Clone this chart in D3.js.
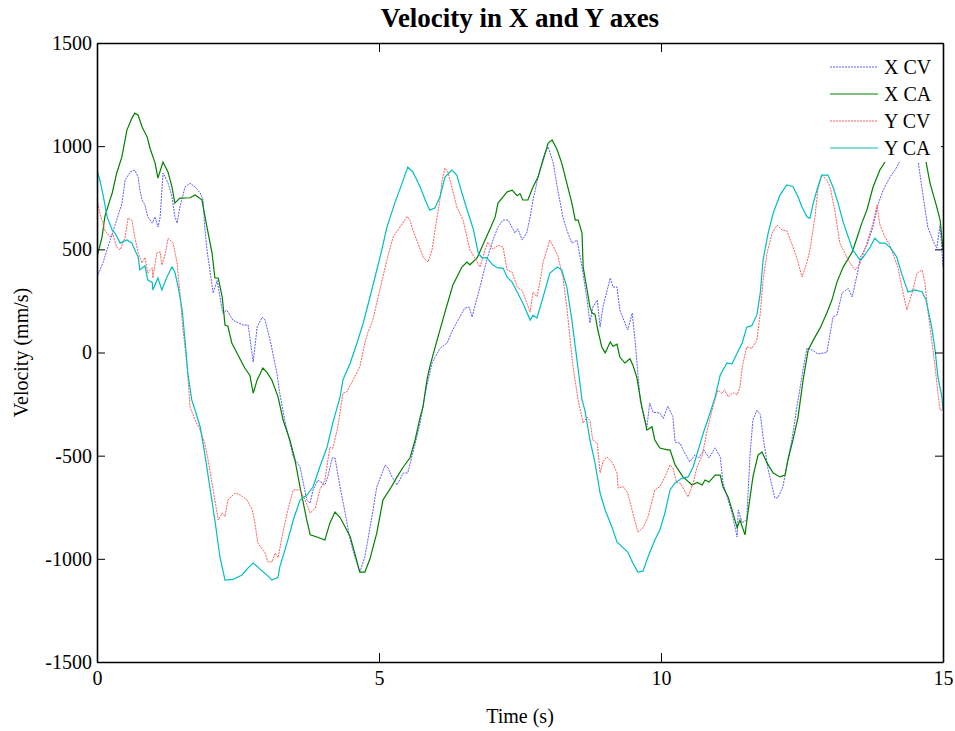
<html>
<head>
<meta charset="utf-8">
<script src="https://d3js.org/d3.v7.min.js"></script>
<style>
  body { margin: 0; background: #fff; }
  text { font-family: "Liberation Serif", "Times New Roman", serif; }
</style>
</head>
<body>
<div id="chart"></div>
<script>
// X CV (blue, dotted)
const xcvT = [0.00,0.11,0.18,0.28,0.44,0.50,0.59,0.67,0.73,0.76,0.80,0.85,0.90,0.98,1.03,1.08,1.12,1.17,1.21,1.26,1.33,1.38,1.42,1.47,1.56,1.65,1.74,1.83,1.88,1.91,1.95,2.06,2.13,2.23,2.30,2.41,2.59,2.68,2.77,2.84,2.93,2.98,3.07,3.19,3.24,3.33,3.48,3.60,3.72,3.78,3.83,3.92,4.04,4.10,4.17,4.22,4.31,4.40,4.49,4.57,4.66,4.75,4.89,4.96,5.11,5.16,5.23,5.32,5.43,5.51,5.60,5.73,5.82,5.94,6.08,6.21,6.29,6.40,6.52,6.60,6.65,6.79,6.91,7.02,7.11,7.20,7.29,7.41,7.46,7.54,7.62,7.68,7.73,7.85,7.94,8.00,8.09,8.17,8.26,8.33,8.42,8.51,8.60,8.69,8.74,8.79,8.87,8.92,8.97,9.10,9.15,9.22,9.27,9.36,9.41,9.49,9.54,9.63,9.75,9.80,9.86,9.98,10.04,10.12,10.21,10.25,10.34,10.39,10.51,10.60,10.67,10.76,10.85,10.96,11.05,11.10,11.19,11.26,11.35,11.37,11.44,11.52,11.58,11.63,11.70,11.76,11.81,11.90,12.02,12.07,12.16,12.25,12.32,12.41,12.52,12.59,12.68,12.78,12.94,13.05,13.12,13.21,13.32,13.39,13.48,13.53,13.65,13.76,13.85,13.94,14.06,14.15,14.24,14.38,14.47,14.56,14.65,14.73,14.84,14.89,14.95,15.00];
const xcvV = [366,438,500,584,720,836,875,884,850,787,739,715,657,627,657,608,657,870,850,821,754,660,627,705,802,820,802,773,740,608,497,288,349,191,205,157,133,133,-46,124,172,157,60,-100,-197,-330,-506,-555,-715,-730,-666,-618,-642,-594,-511,-511,-652,-778,-909,-990,-1064,-990,-770,-652,-545,-560,-603,-642,-584,-584,-487,-342,-197,-51,20,46,100,157,215,220,172,317,448,545,608,642,642,579,600,545,580,657,739,884,966,996,918,787,657,593,530,545,414,254,143,220,254,123,220,361,317,317,206,143,109,191,60,-230,-361,-245,-290,-293,-320,-260,-310,-434,-440,-472,-530,-497,-511,-472,-511,-462,-506,-632,-715,-780,-894,-763,-826,-810,-489,-327,-279,-300,-409,-569,-705,-705,-652,-521,-424,-264,-80,22,12,-7,0,172,182,288,310,269,380,458,520,610,720,787,850,884,930,1030,1000,923,754,608,530,506,620,414];

// X CA (green, solid)
const xcaT = [0.00,0.09,0.14,0.23,0.27,0.35,0.44,0.53,0.62,0.67,0.73,0.80,0.89,0.94,1.03,1.08,1.17,1.26,1.33,1.38,1.47,1.65,1.74,1.86,1.95,2.04,2.09,2.15,2.22,2.27,2.32,2.39,2.50,2.62,2.71,2.77,2.84,2.94,3.01,3.10,3.21,3.30,3.42,3.51,3.60,3.72,3.78,3.90,4.04,4.13,4.22,4.31,4.40,4.49,4.57,4.66,4.75,4.84,4.96,5.07,5.20,5.32,5.43,5.55,5.64,5.73,5.78,5.85,5.90,6.03,6.17,6.31,6.47,6.56,6.61,6.74,6.88,6.97,7.06,7.11,7.27,7.36,7.45,7.50,7.55,7.64,7.73,7.82,7.91,8.00,8.07,8.16,8.24,8.33,8.42,8.48,8.53,8.60,8.62,8.69,8.74,8.78,8.83,8.88,8.95,9.01,9.10,9.15,9.22,9.27,9.36,9.45,9.50,9.57,9.63,9.66,9.75,9.84,9.89,9.98,10.11,10.16,10.25,10.39,10.55,10.64,10.73,10.78,10.85,10.96,11.05,11.10,11.19,11.26,11.35,11.40,11.49,11.54,11.63,11.72,11.79,11.88,11.99,12.11,12.20,12.25,12.34,12.43,12.52,12.61,12.70,12.82,12.94,13.03,13.12,13.23,13.39,13.48,13.56,13.65,13.76,13.88,13.97,14.10,14.24,14.41,14.59,14.70,14.77,14.89,14.95,15.00];
const xcaV = [463,560,660,740,773,870,947,1078,1136,1160,1150,1093,1044,990,918,845,923,874,802,724,748,750,763,740,608,482,361,361,269,133,128,46,-12,-75,-110,-197,-133,-75,-95,-133,-215,-327,-424,-521,-652,-812,-884,-894,-909,-826,-773,-800,-846,-894,-972,-1064,-1064,-1000,-875,-715,-660,-603,-555,-510,-424,-313,-264,-133,-70,60,196,327,414,438,425,458,545,600,657,724,778,787,760,770,739,739,802,850,933,1015,1030,981,918,821,724,642,642,579,414,303,220,191,185,109,27,-2,51,30,40,-22,-51,-30,-60,-119,-215,-264,-376,-360,-424,-463,-472,-472,-545,-603,-642,-630,-642,-618,-628,-594,-594,-652,-700,-763,-850,-812,-884,-778,-603,-497,-482,-535,-584,-603,-594,-521,-424,-313,-133,12,60,118,191,254,341,414,487,560,627,690,802,884,923,1000,1060,1080,1000,923,821,705,640,497];

// Y CV (red, dotted)
const ycvT = [0.00,0.05,0.14,0.23,0.28,0.35,0.41,0.50,0.55,0.62,0.67,0.73,0.80,0.85,0.90,0.98,0.99,1.06,1.12,1.15,1.21,1.26,1.35,1.42,1.47,1.52,1.60,1.65,1.74,1.83,1.91,1.97,2.06,2.15,2.22,2.27,2.32,2.45,2.54,2.66,2.75,2.80,2.85,2.98,3.03,3.10,3.16,3.21,3.28,3.37,3.48,3.60,3.69,3.78,3.87,3.95,4.04,4.13,4.18,4.27,4.36,4.43,4.54,4.66,4.75,4.80,4.89,5.02,5.14,5.25,5.37,5.50,5.55,5.60,5.69,5.78,5.87,5.94,6.03,6.08,6.12,6.17,6.22,6.29,6.38,6.49,6.56,6.61,6.70,6.79,6.88,6.93,7.02,7.11,7.20,7.27,7.36,7.45,7.54,7.62,7.68,7.73,7.80,7.85,7.91,8.03,8.12,8.17,8.26,8.33,8.39,8.44,8.53,8.62,8.69,8.74,8.79,8.87,8.92,8.97,9.04,9.13,9.22,9.24,9.33,9.41,9.50,9.59,9.68,9.77,9.89,9.98,10.07,10.16,10.21,10.28,10.34,10.43,10.48,10.57,10.64,10.73,10.82,10.92,11.01,11.08,11.13,11.19,11.28,11.35,11.40,11.44,11.52,11.61,11.70,11.76,11.81,11.88,11.97,12.06,12.15,12.23,12.34,12.43,12.50,12.59,12.64,12.73,12.78,12.85,12.94,13.00,13.09,13.17,13.26,13.35,13.44,13.53,13.65,13.76,13.83,13.88,13.97,14.06,14.11,14.20,14.27,14.36,14.45,14.54,14.63,14.68,14.73,14.80,14.86,14.91,14.95,15.00];
const ycvV = [739,676,593,560,575,511,497,560,652,640,560,482,434,460,385,410,361,482,488,424,475,554,530,434,288,123,-70,-264,-327,-376,-438,-521,-666,-812,-778,-795,-715,-681,-690,-715,-760,-826,-923,-972,-1015,-1015,-972,-995,-894,-778,-666,-666,-715,-778,-755,-666,-618,-458,-465,-361,-197,-190,-133,-70,46,94,157,310,448,560,608,660,640,593,530,463,438,497,657,739,836,894,875,802,705,642,560,497,458,414,497,535,500,520,511,400,390,317,300,240,196,293,270,336,438,545,497,470,366,220,60,-70,-230,-342,-313,-330,-424,-440,-584,-530,-506,-530,-584,-657,-650,-681,-778,-870,-850,-797,-666,-650,-603,-545,-560,-632,-632,-676,-700,-632,-555,-500,-376,-264,-182,-200,-180,-215,-195,-205,-167,-70,27,20,60,191,351,482,579,618,593,590,511,438,366,438,497,657,787,860,836,800,676,530,482,434,400,430,530,627,715,620,560,520,482,414,317,206,288,385,400,336,206,60,-70,-197,-279,-279];

// Y CA (cyan, solid)
const ycaT = [0.00,0.05,0.11,0.18,0.27,0.32,0.41,0.53,0.62,0.67,0.73,0.76,0.85,0.90,0.98,0.99,1.08,1.15,1.24,1.33,1.38,1.44,1.51,1.56,1.61,1.68,1.74,1.83,1.91,2.00,2.09,2.18,2.27,2.41,2.57,2.68,2.77,2.89,3.01,3.10,3.21,3.24,3.37,3.48,3.60,3.72,3.83,3.95,4.08,4.18,4.31,4.36,4.49,4.61,4.72,4.84,4.93,5.05,5.14,5.28,5.41,5.51,5.60,5.73,5.82,5.90,5.99,6.08,6.17,6.29,6.38,6.47,6.58,6.67,6.76,6.83,6.91,7.02,7.11,7.20,7.27,7.36,7.45,7.55,7.68,7.73,7.80,7.91,8.03,8.16,8.24,8.33,8.42,8.51,8.60,8.65,8.74,8.83,8.92,9.01,9.13,9.22,9.33,9.41,9.50,9.59,9.68,9.77,9.89,9.98,10.07,10.16,10.25,10.37,10.48,10.57,10.66,10.75,10.87,10.96,11.05,11.17,11.26,11.35,11.44,11.52,11.61,11.70,11.76,11.81,11.90,11.99,12.11,12.23,12.34,12.43,12.50,12.59,12.64,12.70,12.78,12.85,12.96,13.05,13.14,13.23,13.32,13.40,13.53,13.58,13.71,13.79,13.88,13.97,14.06,14.18,14.27,14.38,14.50,14.63,14.70,14.80,14.86,14.91,14.98,15.00];
const ycaV = [884,836,760,657,593,579,530,545,530,497,463,400,420,351,340,303,361,303,366,414,390,317,206,60,-99,-230,-280,-361,-489,-652,-812,-991,-1103,-1100,-1078,-1044,-1020,-1050,-1078,-1103,-1090,-1040,-923,-812,-715,-691,-652,-555,-458,-342,-215,-133,-51,46,143,269,366,497,608,724,821,899,875,802,739,690,700,754,850,884,860,773,676,600,482,458,460,424,410,409,366,341,293,240,157,180,167,269,385,414,400,317,157,-36,-230,-279,-424,-535,-681,-763,-846,-918,-947,-967,-1020,-1064,-1060,-991,-909,-860,-778,-666,-632,-610,-603,-555,-472,-390,-293,-215,-109,-51,-55,-2,46,123,130,182,288,448,579,676,763,812,805,754,705,657,650,724,802,860,860,802,724,632,560,497,448,460,511,554,530,530,510,463,380,293,303,293,254,123,12,-119,-215,-279];

const seriesNames = ["X CV", "X CA", "Y CV", "Y CA"];
const xTicks = [0, 5, 10, 15];
const yTicks = [-1500, -1000, -500, 0, 500, 1000, 1500];

const series = [
    {name: seriesNames[0], t: xcvT, v: xcvV, color: "#5c5cff", dash: "2,1", w: 1},
    {name: seriesNames[1], t: xcaT, v: xcaV, color: "#008000", dash: null, w: 1.2},
    {name: seriesNames[2], t: ycvT, v: ycvV, color: "#ff5c5c", dash: "2,1", w: 1},
    {name: seriesNames[3], t: ycaT, v: ycaV, color: "#00bfbf", dash: null, w: 1.2}
];

const W = 955, H = 731;
const margin = {top: 43, right: 12, bottom: 69, left: 97},
    width = W - margin.left - margin.right,
    height = H - margin.top - margin.bottom;

const svg = d3.select("#chart")
    .append("svg")
    .attr("width", W)
    .attr("height", H);

const g = svg.append("g")
    .attr("transform", "translate(" + margin.left + "," + margin.top + ")");

const x = d3.scaleLinear().domain([0, 15]).range([0, width]);
const y = d3.scaleLinear().domain([-1500, 1500]).range([height, 0]);

g.append("defs").append("clipPath").attr("id", "clip")
    .append("rect").attr("width", width).attr("height", height);

// lines
const line = d3.line()
    .x(d => x(d[0]))
    .y(d => y(d[1]));

series.forEach(s => {
    g.append("path")
        .datum(s.t.map((t, i) => [t, s.v[i]]))
        .attr("clip-path", "url(#clip)")
        .attr("fill", "none")
        .attr("stroke", s.color)
        .attr("stroke-width", s.w)
        .attr("stroke-dasharray", s.dash)
        .attr("d", line);
});

// axes, ticks pointing inward
const fs = "20px";
const axBottom = g.append("g").attr("transform", "translate(0," + height + ")")
    .call(d3.axisBottom(x).tickValues(xTicks).tickSizeInner(-9).tickSizeOuter(0).tickPadding(9));
const axTop = g.append("g")
    .call(d3.axisTop(x).tickValues(xTicks).tickSizeInner(-9).tickSizeOuter(0).tickFormat(""));
const axLeft = g.append("g")
    .call(d3.axisLeft(y).tickValues(yTicks).tickSizeInner(-8).tickSizeOuter(0).tickPadding(5).tickFormat(d3.format("d")));
const axRight = g.append("g").attr("transform", "translate(" + width + ",0)")
    .call(d3.axisRight(y).tickValues(yTicks).tickSizeInner(-8).tickSizeOuter(0).tickFormat(""));

[axBottom, axTop, axLeft, axRight].forEach(a => {
    a.select(".domain").attr("stroke", "#000").attr("stroke-width", 1.6);
    a.selectAll(".tick line").attr("stroke", "#000").attr("stroke-width", 1);
    a.selectAll("text").attr("font-family", "Liberation Serif, serif").attr("font-size", fs).attr("fill", "#000");
});
axLeft.selectAll("text").text(d => d < 0 ? "-" + Math.abs(d) : d);

// legend with white background
const lg = g.append("g").attr("transform", "translate(" + (width - 118) + ",10)");
lg.append("rect").attr("x", 0).attr("y", 0).attr("width", 116).attr("height", 109).attr("fill", "#fff");
series.forEach((s, i) => {
    const ly = 14 + i * 27;
    lg.append("line").attr("x1", 5).attr("x2", 53).attr("y1", ly).attr("y2", ly)
        .attr("stroke", s.color).attr("stroke-width", s.w).attr("stroke-dasharray", s.dash);
    lg.append("text").attr("x", 59).attr("y", ly).attr("dy", "0.35em")
        .attr("font-size", fs).text(s.name);
});

// titles
svg.append("text").attr("x", margin.left + width / 2).attr("y", 27)
    .attr("text-anchor", "middle").attr("font-weight", "bold").attr("font-size", "27px")
    .text("Velocity in X and Y axes");
svg.append("text").attr("x", margin.left + width / 2).attr("y", 723)
    .attr("text-anchor", "middle").attr("font-size", fs).text("Time (s)");
svg.append("text").attr("transform", "translate(28," + (margin.top + height / 2) + ") rotate(-90)")
    .attr("text-anchor", "middle").attr("font-size", fs).text("Velocity (mm/s)");
</script>
</body>
</html>
